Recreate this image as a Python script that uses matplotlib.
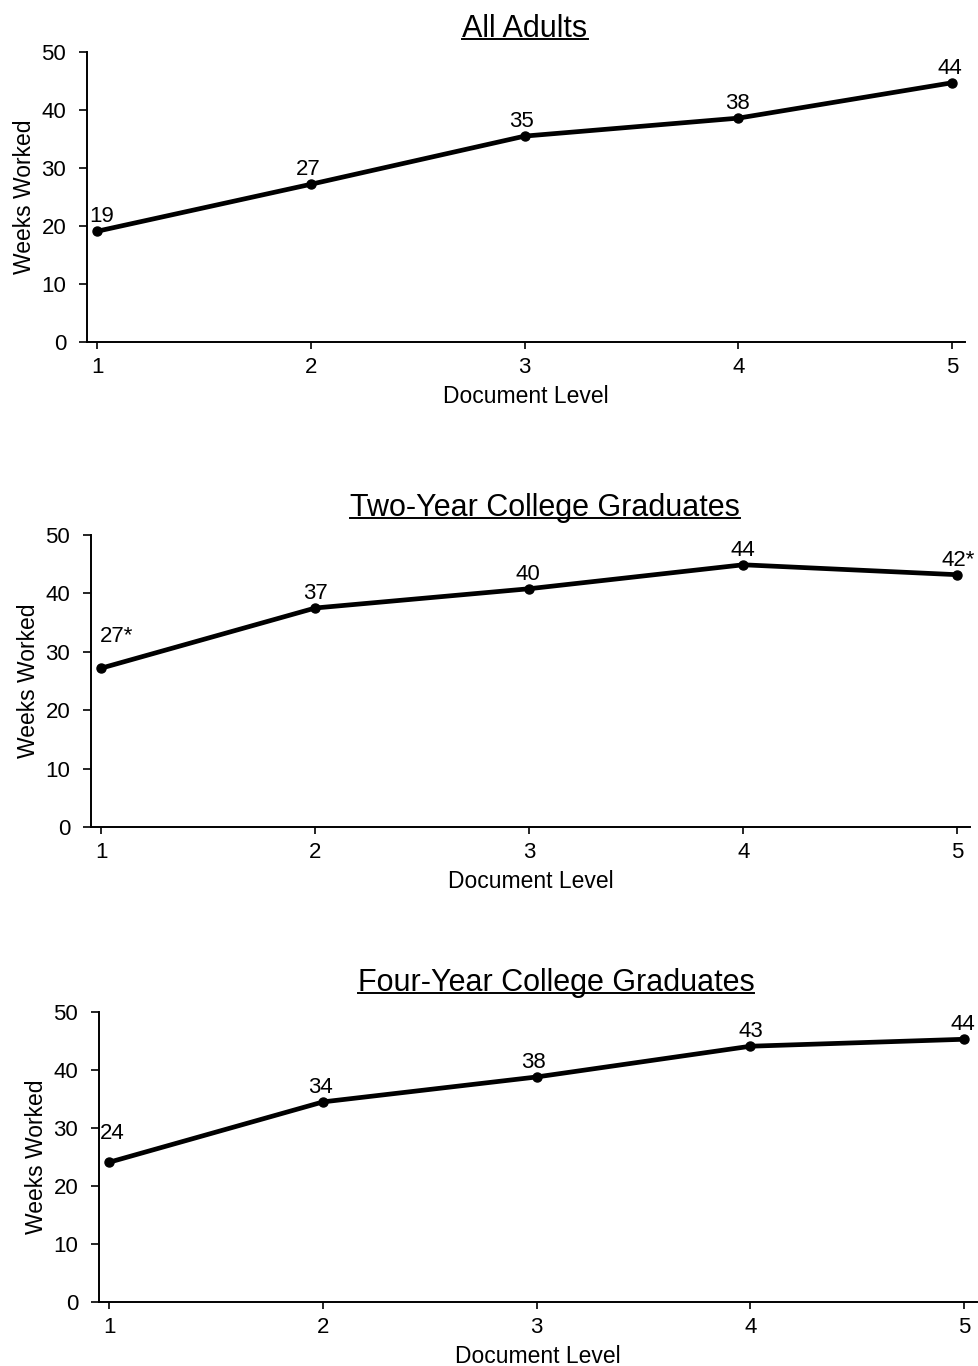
import numpy as np
import matplotlib
matplotlib.use("Agg")
import matplotlib.pyplot as plt
from matplotlib.lines import Line2D

plt.rcParams['font.family'] = ['Liberation Sans', 'DejaVu Sans']

# data
levels = [1, 2, 3, 4, 5]
titles = ["All Adults", "Two-Year College Graduates", "Four-Year College Graduates"]
all_adults = [19.1, 27.2, 35.5, 38.6, 44.7]
two_year = [27.2, 37.5, 40.8, 44.9, 43.2]
four_year = [24.1, 34.5, 38.8, 44.1, 45.3]
all_labels = ["19", "27", "35", "38", "44"]
two_labels = ["27*", "37", "40", "44", "42*"]
four_labels = ["24", "34", "38", "43", "44"]
yticks = [0, 10, 20, 30, 40, 50]

series = [all_adults, two_year, four_year]
labels = [all_labels, two_labels, four_labels]
# label offsets (points) above each marker
offsets = [
    [(3, 3), (-2, 3), (-2, 3), (-1, 3), (-2, 3)],
    [(11, 15), (0, 3), (-1, 3), (0, 3), (1, 3)],
    [(2, 13), (-2, 3), (-2, 3), (0, 3), (-1, 3)],
]

W, H = 979, 1366
fig = plt.figure(figsize=(W / 100, H / 100), dpi=100)

# axes boxes in pixels: left, right, top, bottom
boxes = [(87, 965, 52, 342), (91, 970, 535, 827), (99, 977, 1012, 1302)]
title_y = [39, 518, 993]     # underline pixel row
title_x = [525, 545, 556]

axes = []
for i, (l, r, t, b) in enumerate(boxes):
    ax = fig.add_axes([l / W, 1 - b / H, (r - l) / W, (b - t) / H])
    ax.plot(levels, series[i], color="black", lw=3.4, marker="o", ms=6.5,
            solid_capstyle="round", zorder=3, clip_on=False)
    for x, y, s, off in zip(levels, series[i], labels[i], offsets[i]):
        ax.annotate(s, (x, y), xytext=off, textcoords="offset points",
                    ha="center", va="bottom", fontsize=16)
    ax.set_xlim(0.952, 5.06)
    ax.set_ylim(0, 50)
    ax.set_xticks(levels)
    ax.set_yticks(yticks)
    ax.tick_params(axis="both", labelsize=16, width=1.2, length=6, direction="out", colors="black")
    ax.tick_params(axis="x", pad=6, length=5)
    ax.tick_params(axis="y", pad=9)
    ax.spines["top"].set_visible(False)
    ax.spines["right"].set_visible(False)
    ax.spines["left"].set_linewidth(1.4)
    ax.spines["bottom"].set_linewidth(1.4)
    ax.set_xlabel("Document Level", fontsize=16.5, labelpad=5)
    ax.set_ylabel("Weeks Worked", fontsize=16.5, labelpad=4)
    axes.append(ax)

# titles with underline
fig.canvas.draw()
renderer = fig.canvas.get_renderer()
for i, t in enumerate(titles):
    txt = fig.text(title_x[i] / W, 1 - (title_y[i] - 2) / H, t, ha="center", va="baseline", fontsize=22)
    bb = txt.get_window_extent(renderer=renderer)
    yline = 1 - title_y[i] / H
    fig.add_artist(Line2D([bb.x0 / W, bb.x1 / W], [yline, yline], color="black", lw=1.4,
                          transform=fig.transFigure))

fig.savefig("out.png", dpi=100)
